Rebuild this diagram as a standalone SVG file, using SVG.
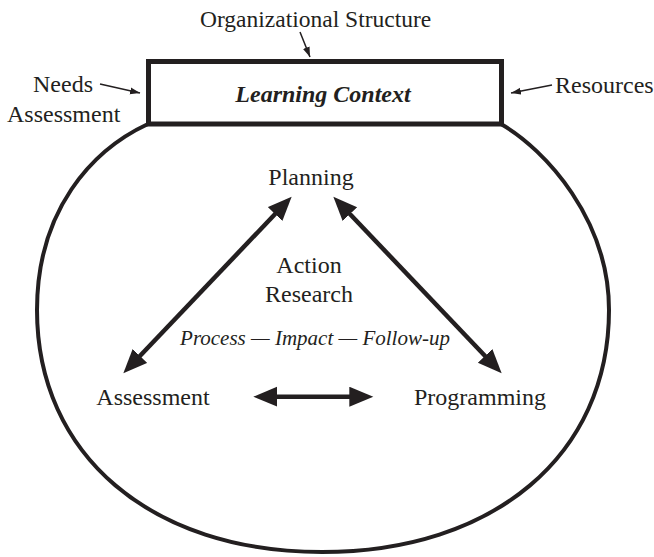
<svg xmlns="http://www.w3.org/2000/svg" width="654" height="557" viewBox="0 0 654 557">
  <style>
    text { font-family: "Liberation Serif", "Times New Roman", serif; fill: #231f20; }
    .lbl { font-size: 24px; }
    .mid { text-anchor: middle; }
    .title { font-size: 23.5px; }
    .ctx { font-size: 24px; font-style: italic; font-weight: bold; }
    .sub { font-size: 21px; font-style: italic; }
    .outline { fill: none; stroke: #231f20; stroke-width: 4; }
    .box { fill: #ffffff; stroke: #231f20; stroke-width: 5; }
    .heavy { stroke: #231f20; stroke-width: 4.5; fill: none; marker-start: url(#bigHead); marker-end: url(#bigHead); }
    .thin { stroke: #231f20; stroke-width: 1.5; fill: none; marker-end: url(#smallHead); }
  </style>
  <defs>
    <marker id="bigHead" markerUnits="userSpaceOnUse" markerWidth="26" markerHeight="22" refX="10" refY="10" orient="auto-start-reverse">
      <path d="M0,0 L24,10 L0,20 Z" fill="#231f20"/>
    </marker>
    <marker id="smallHead" markerUnits="userSpaceOnUse" markerWidth="12" markerHeight="8" refX="10" refY="3.5" orient="auto">
      <path d="M0,0 L10,3.5 L0,7 Z" fill="#231f20"/>
    </marker>
  </defs>

  <!-- rounded boundary hanging from the context box -->
  <g id="boundary">
    <path class="outline" d="M148,124 C92,150 37,210 37,310 C37,455 151,552 322,552 C494,552 609,455 609,310 C609,220 546,150 501,124"/>
  </g>

  <g id="learning-context">
    <rect class="box" x="148.5" y="61.5" width="353" height="62.5"/>
    <text class="ctx mid" x="323" y="102">Learning Context</text>
  </g>

  <g id="organizational-structure">
    <text class="title" x="200" y="27">Organizational Structure</text>
  </g>

  <g id="needs-assessment">
    <text class="lbl" x="33" y="92">Needs</text>
    <text class="lbl" x="7" y="122">Assessment</text>
  </g>

  <g id="resources">
    <text class="lbl" x="555" y="93">Resources</text>
  </g>

  <g id="planning">
    <text class="lbl mid" x="311" y="185">Planning</text>
  </g>

  <g id="action-research">
    <text class="lbl mid" x="309" y="273">Action</text>
    <text class="lbl mid" x="309" y="302">Research</text>
    <text class="sub mid" x="315" y="345">Process — Impact — Follow-up</text>
  </g>

  <g id="assessment">
    <text class="lbl mid" x="153" y="405">Assessment</text>
  </g>

  <g id="programming">
    <text class="lbl mid" x="480" y="405">Programming</text>
  </g>

  <g id="connectors">
    <line class="thin" x1="300" y1="32" x2="310" y2="57"/>
    <line class="thin" x1="100" y1="84" x2="140" y2="93"/>
    <line class="thin" x1="552" y1="85" x2="511" y2="93"/>
    <line class="heavy" x1="282" y1="206.8" x2="133" y2="363.2"/>
    <line class="heavy" x1="343" y1="206.8" x2="492" y2="363.2"/>
    <line class="heavy" x1="267.3" y1="396.7" x2="359.3" y2="396.7"/>
  </g>
</svg>
